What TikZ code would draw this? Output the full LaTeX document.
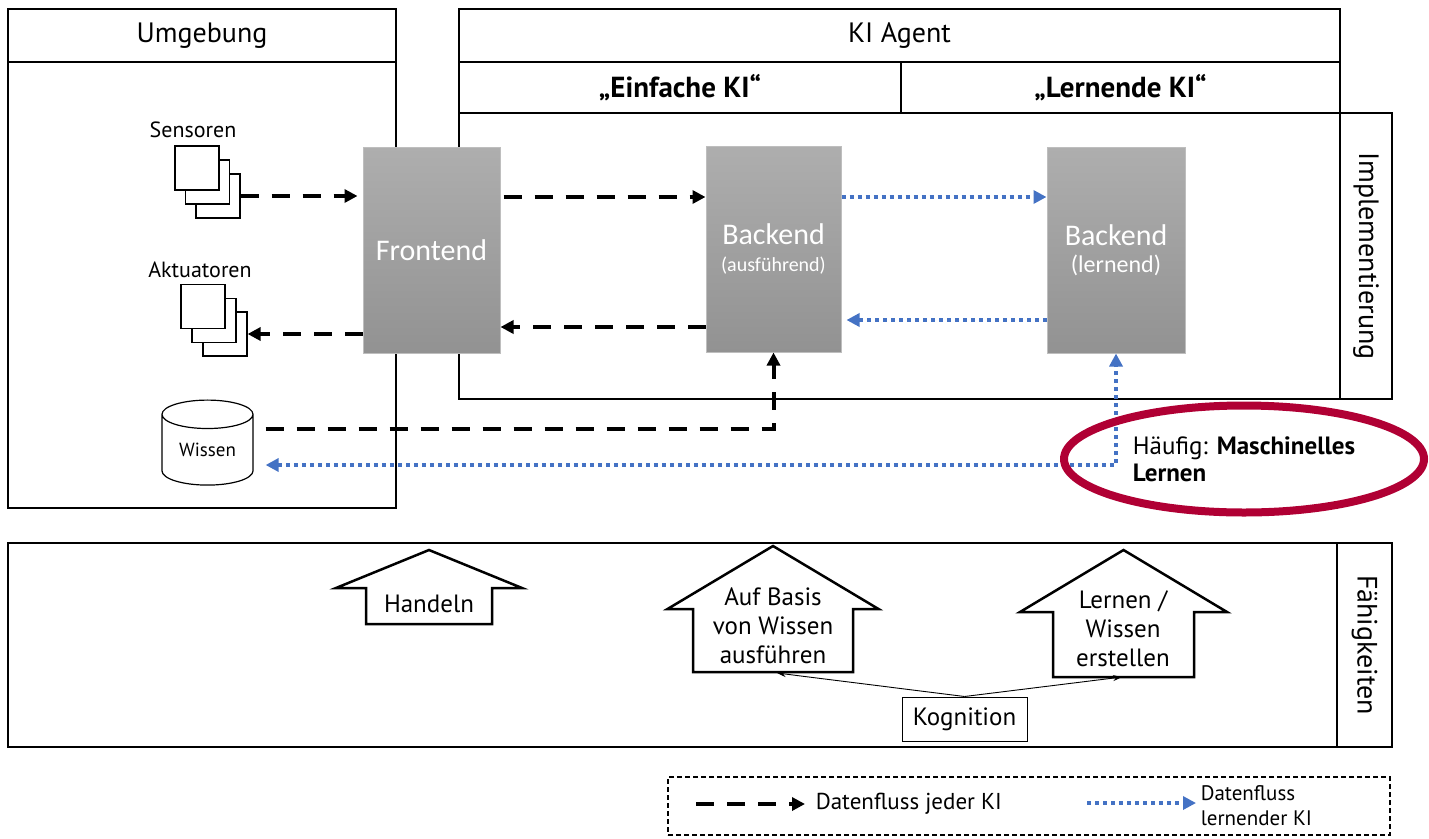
\documentclass[tikz,border=0pt]{standalone}
\usepackage{fontspec}
\setmainfont{PT Sans}
\newfontfamily\calibrifont{Carlito}
\usepackage{tikz}
\usetikzlibrary{shapes,arrows.meta}
\usepackage{xcolor}
\definecolor{kired}{RGB}{176,0,52}
\definecolor{kiblue}{RGB}{68,114,196}
\definecolor{boxtop}{RGB}{174,174,174}
\definecolor{boxbottom}{RGB}{146,146,146}
\definecolor{boxline}{RGB}{190,190,190}
\newcommand{\fsz}[2]{\fontsize{#1}{#2}\selectfont}

\begin{document}
\begin{tikzpicture}[x=1pt, y=-1pt, line width=1.5pt,
frame/.style={draw, line width=1.5pt, inner sep=0pt, font=\fsz{28}{32}},
head/.style={frame, font=\bfseries\fsz{29}{32}},
doc/.style={draw, fill=white, line width=1.2pt, minimum size=44, inner sep=0pt},
gray box/.style={draw=boxline, line width=1pt, top color=boxtop, bottom color=boxbottom, text=white, align=center, inner sep=0pt, font=\calibrifont\fsz{30}{31}},
data flow/.style={line width=4pt, dash pattern=on 18pt off 13pt, -{Triangle[length=13pt,width=13pt]}},
learn flow/.style={color=kiblue, line width=4pt, dash pattern=on 4pt off 4pt, -{Triangle[length=13pt,width=13pt]}},
house/.style={draw, line width=2.5pt, fill=white},
capab/.style={align=center, inner sep=0pt, font=\fsz{25}{29}},
thin arrow/.style={line width=0.9pt, -{Stealth[length=9pt,width=6pt]}}]
\useasboundingbox (0,0) rectangle (1429,838);

% frames
\node[frame, minimum width=388, minimum height=53] (umghead) at (202,35.5) {Umgebung};
\node[frame, minimum width=388, minimum height=446] (umg) at (202,285) {};
\node[frame, minimum width=881, minimum height=53] (agent) at (899.5,35.5) {KI Agent};
\node[head, minimum width=442, minimum height=51] (einfach) at (680,87.5) {„Einfache KI“};
\node[head, minimum width=439, minimum height=51] (lernend) at (1120.5,87.5) {„Lernende KI“};
\node[frame, minimum width=881, minimum height=286] (impl) at (899.5,256) {};
\node[frame, rotate=-90, minimum width=286, minimum height=52] (impllabel) at (1366,256) {Implementierung};
\node[frame, minimum width=1329, minimum height=204] (faeh) at (672.5,645) {};
\node[frame, rotate=-90, minimum width=204, minimum height=55] (faehlabel) at (1364.5,645) {Fähigkeiten};

% Umgebung
\node[font=\fsz{22}{26}] (senslabel) at (193,130) {Sensoren};
\foreach \i in {2,1,0} \node[doc] (sens\i) at (197+10.5*\i,168+14*\i) {};
\node[font=\fsz{22}{26}] (aktlabel) at (200,270) {Aktuatoren};
\foreach \i in {2,1,0} \node[doc] (akt\i) at (203+11*\i,306.5+13.75*\i) {};
\node[cylinder, draw, fill=white, line width=1.2pt, shape border rotate=90, aspect=0.5, minimum height=85, minimum width=91, inner sep=0pt, font=\fsz{19}{22}] (wissen) at (207.5,450) {Wissen};

% Agent
\node[gray box, minimum width=137, minimum height=206] (front) at (431.5,250) {Frontend};
\node[gray box, minimum width=135, minimum height=206] (back1) at (773.5,249) {Backend\\[-4pt]{\fsz{20}{24}(ausführend)}};
\node[gray box, minimum width=138, minimum height=206] (back2) at (1116,250) {Backend\\[-4pt]{\fsz{24}{26}(lernend)}};

\coordinate (upper) at (0,197);
\coordinate (lower) at (0,327);
\coordinate (lowlearn) at (0,320);

\draw[data flow, shorten >=5pt] (sens2.east) -- (sens2.east -| front.west);
\draw[data flow] (front.west |- akt2.east) -- (akt2.east);
\draw[data flow, shorten <=3pt] (front.east |- upper) -- (back1.west |- upper);
\draw[data flow] (back1.west |- lower) -- (front.east |- lower);
\draw[data flow] ([xshift=12pt,yshift=21pt]wissen.east) -| (back1.south);
\draw[learn flow] (back1.east |- upper) -- (back2.west |- upper);
\draw[learn flow, shorten >=5pt] (back2.west |- lowlearn) -- (back1.east |- lowlearn);
\draw[learn flow, {Triangle[length=13pt,width=13pt]}-{Triangle[length=13pt,width=13pt]}] ([xshift=12pt,yshift=-15pt]wissen.east) -| (back2.south);

\node[ellipse, draw=kired, line width=8pt, minimum width=360, minimum height=107, inner sep=0pt, align=left, font=\fsz{25}{27}] (ml) at (1244,459) {Häufig: \textbf{Maschinelles}\\\textbf{Lernen}};

% Faehigkeiten
\draw[house] (366,624) -- (366,588) -- (336,588) -- (429,550) -- (522,588) -- (492,588) -- (492,624) -- cycle;
\node[capab] (handeln) at (429,604) {Handeln};
\draw[house] (693,672) -- (693,609) -- (667.5,609) -- (773,546) -- (878.5,609) -- (853,609) -- (853,672) -- cycle;
\node[capab] (ausf) at (773,626) {Auf Basis\\von Wissen\\ausführen};
\draw[house] (1053,677) -- (1053,612) -- (1020,612) -- (1123.5,550) -- (1227,612) -- (1194,612) -- (1194,677) -- cycle;
\node[capab] (lern) at (1123,629) {Lernen /\\Wissen\\erstellen};
\node[draw, line width=1pt, minimum width=125, minimum height=44, inner sep=0pt, font=\fsz{25}{29}] (kog) at (964.5,719) {Kognition};
\coordinate (ausf foot) at (777,673);
\coordinate (lern foot) at (1122,677);
\draw[thin arrow] (kog.north) -- (ausf foot);
\draw[thin arrow] (kog.north) -- (lern foot);

% Legende
\node[draw, line width=1.2pt, dash pattern=on 5pt off 3pt, minimum width=722, minimum height=58, inner sep=0pt] (legend) at (1029,806) {};
\node[anchor=west, inner sep=0pt, font=\fsz{23}{25}] (leg1) at (815,804) {Datenfluss jeder KI};
\coordinate (leg1 start) at (696,804);
\draw[data flow, shorten >=10pt] (leg1 start) -- (leg1 start -| leg1.west);
\node[anchor=west, align=left, inner sep=0pt, font=\fsz{21}{25}] (leg2) at (1200,806) {Datenfluss\\lernender KI};
\coordinate (leg2 start) at (1087,803);
\draw[learn flow, shorten >=4pt] (leg2 start) -- (leg2 start -| leg2.west);
\end{tikzpicture}
\end{document}
